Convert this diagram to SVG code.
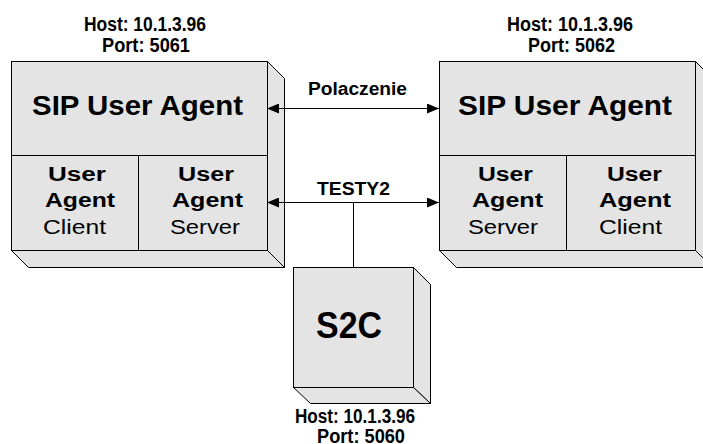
<svg xmlns="http://www.w3.org/2000/svg" width="703" height="444" viewBox="0 0 703 444">
<style>
.face{fill:#e4e4e4;stroke:#000;stroke-width:1}
.ln{stroke:#000;stroke-width:1;fill:none}
text{font-family:"Liberation Sans",Arial,sans-serif;fill:#000}
.lbl{font-size:20px;font-weight:bold}
.big{font-size:28px;font-weight:bold}
.sub{font-size:20px;font-weight:bold}
.subr{font-size:20px}
.con{font-size:18px;font-weight:bold}
</style>
<defs>
<marker id="ah" markerWidth="12" markerHeight="10" refX="12" refY="5" orient="auto-start-reverse" markerUnits="userSpaceOnUse">
<path d="M0,0 L12,5 L0,10 z" fill="#000"/>
</marker>
</defs>
<rect width="703" height="444" fill="#fff"/>

<g id="ua-left">
<polygon class="face" points="267.5,61.5 284.5,78.5 284.5,267.5 267.5,250.5"/>
<polygon class="face" points="11.5,250.5 28.5,267.5 284.5,267.5 267.5,250.5"/>
<rect class="face" x="11.5" y="61.5" width="256" height="189"/>
<line class="ln" x1="11.5" y1="155.5" x2="267.5" y2="155.5"/>
<line class="ln" x1="138.5" y1="155.5" x2="138.5" y2="250.5"/>
<text class="lbl" x="84" y="31" textLength="122" lengthAdjust="spacingAndGlyphs">Host: 10.1.3.96</text>
<text class="lbl" x="102" y="52" textLength="88" lengthAdjust="spacingAndGlyphs">Port: 5061</text>
<text class="big" x="32" y="115" textLength="211" lengthAdjust="spacingAndGlyphs">SIP User Agent</text>
<text class="sub" x="48" y="181" textLength="58" lengthAdjust="spacingAndGlyphs">User</text>
<text class="sub" x="45" y="207" textLength="70" lengthAdjust="spacingAndGlyphs">Agent</text>
<text class="subr" x="43" y="234" textLength="63" lengthAdjust="spacingAndGlyphs">Client</text>
<text class="sub" x="178" y="181" textLength="56" lengthAdjust="spacingAndGlyphs">User</text>
<text class="sub" x="172" y="207" textLength="71" lengthAdjust="spacingAndGlyphs">Agent</text>
<text class="subr" x="170" y="234" textLength="70" lengthAdjust="spacingAndGlyphs">Server</text>
</g>

<g id="ua-right">
<polygon class="face" points="695.5,61.5 712.5,78.5 712.5,267.5 695.5,250.5"/>
<polygon class="face" points="439.5,250.5 456.5,267.5 712.5,267.5 695.5,250.5"/>
<rect class="face" x="439.5" y="61.5" width="256" height="189"/>
<line class="ln" x1="439.5" y1="155.5" x2="695.5" y2="155.5"/>
<line class="ln" x1="566.5" y1="155.5" x2="566.5" y2="250.5"/>
<text class="lbl" x="507" y="31" textLength="126" lengthAdjust="spacingAndGlyphs">Host: 10.1.3.96</text>
<text class="lbl" x="528" y="52" textLength="87" lengthAdjust="spacingAndGlyphs">Port: 5062</text>
<text class="big" x="458" y="115" textLength="214" lengthAdjust="spacingAndGlyphs">SIP User Agent</text>
<text class="sub" x="478" y="181" textLength="55" lengthAdjust="spacingAndGlyphs">User</text>
<text class="sub" x="472" y="207" textLength="71" lengthAdjust="spacingAndGlyphs">Agent</text>
<text class="subr" x="468" y="234" textLength="70" lengthAdjust="spacingAndGlyphs">Server</text>
<text class="sub" x="607" y="181" textLength="55" lengthAdjust="spacingAndGlyphs">User</text>
<text class="sub" x="599" y="207" textLength="72" lengthAdjust="spacingAndGlyphs">Agent</text>
<text class="subr" x="599" y="234" textLength="63" lengthAdjust="spacingAndGlyphs">Client</text>
</g>

<g id="s2c">
<polygon class="face" points="413.5,267.5 430.5,284.5 430.5,403.5 413.5,387.5"/>
<polygon class="face" points="293.5,387.5 310.5,403.5 430.5,403.5 413.5,387.5"/>
<rect class="face" x="293.5" y="267.5" width="120" height="120"/>
<text x="316" y="338" font-size="36" font-weight="bold" textLength="66" lengthAdjust="spacingAndGlyphs">S2C</text>
<text class="lbl" x="295" y="423" textLength="120" lengthAdjust="spacingAndGlyphs">Host: 10.1.3.96</text>
<text class="lbl" x="317" y="443" textLength="88" lengthAdjust="spacingAndGlyphs">Port: 5060</text>
</g>

<g id="connectors">
<line class="ln" x1="267" y1="108.5" x2="439" y2="108.5" marker-start="url(#ah)" marker-end="url(#ah)"/>
<line class="ln" x1="267" y1="202.5" x2="439" y2="202.5" marker-start="url(#ah)" marker-end="url(#ah)"/>
<line class="ln" x1="353.5" y1="202.5" x2="353.5" y2="267.5"/>
<text class="con" x="308" y="95" textLength="99" lengthAdjust="spacingAndGlyphs">Polaczenie</text>
<text class="con" x="317" y="195" textLength="73" lengthAdjust="spacingAndGlyphs">TESTY2</text>
</g>
</svg>
